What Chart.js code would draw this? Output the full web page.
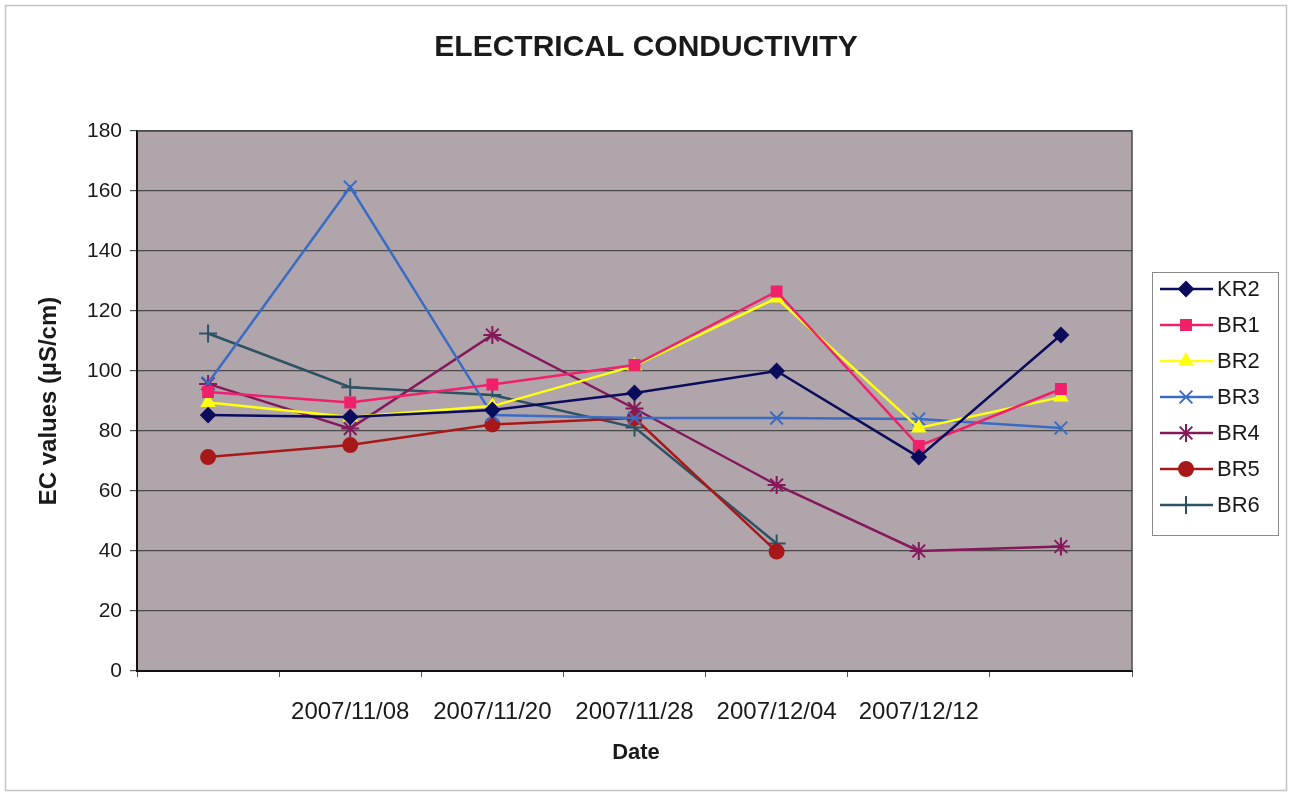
<!DOCTYPE html>
<html>
<head>
<meta charset="utf-8">
<script src="https://cdn.jsdelivr.net/npm/chart.js@4.4.0/dist/chart.umd.min.js"></script>
<style>
html, body { margin: 0; padding: 0; background: #fff; }
canvas { display: block; }
</style>
</head>
<body>
<canvas id="ecChart" width="1293" height="795"></canvas>
<script>
// sampling dates (first and last had no label on the sheet)
const dates = ['', '2007/11/08', '2007/11/20', '2007/11/28', '2007/12/04', '2007/12/12', ''];
const yTicks = [0, 20, 40, 60, 80, 100, 120, 140, 160, 180];

// EC readings per site (µS/cm)
const kr2 = [85.3, 84.7, 87, 92.7, 100, 71.3, 112];
const br1 = [93, 89.5, 95.5, 102, 126.5, 75, 94];
const br2 = [89.5, 84.7, 88.3, 101.7, 124.3, 81, 91.3];
const br3 = [96, 161.3, 85.3, 84.3, 84.3, 84, 81];
const br4 = [95.7, 80.8, 112, 87.5, 62, 40, 41.5];
const br5 = [71.3, 75.3, 82.2, 84.3, 39.8, null, null];
const br6 = [112.5, 94.6, 92, 81.2, 42.5, null, null];

const FONT = '"Liberation Sans", Arial, sans-serif';

function series(label, data, color, style, radius) {
    return {
        label: label,
        data: data,
        borderColor: color,
        backgroundColor: color,
        pointBackgroundColor: color,
        pointBorderColor: color,
        pointStyle: style,
        pointRadius: radius,
        pointBorderWidth: 2,
        borderWidth: 2.5,
        tension: 0,
        spanGaps: false
    };
}

const datasets = [
    series('KR2', kr2, '#0c0c5c', 'rectRot', 7),
    series('BR1', br1, '#f0206a', 'rect', 7),
    series('BR2', br2, '#ffff10', 'triangle', 7),
    series('BR3', br3, '#3a6cc4', 'crossRot', 9),
    series('BR4', br4, '#85185a', 'star', 9),
    series('BR5', br5, '#a81818', 'circle', 7),
    series('BR6', br6, '#2e5264', 'cross', 9)
];

// background, plot fill, borders, titles and the boxed legend
const decor = {
    id: 'decor',
    beforeDraw(chart) {
        const c = chart.ctx, a = chart.chartArea;
        c.save();
        c.fillStyle = '#ffffff';
        c.fillRect(0, 0, chart.width, chart.height);
        c.strokeStyle = '#c4c4c4';
        c.lineWidth = 1.5;
        c.strokeRect(5.5, 5.5, 1281, 785);
        c.fillStyle = '#b1a5ac';
        c.fillRect(a.left, a.top, a.right - a.left, a.bottom - a.top);
        c.restore();
    },
    afterDraw(chart) {
        const c = chart.ctx, a = chart.chartArea;
        c.save();
        c.strokeStyle = '#4a4a4a';
        c.lineWidth = 1.5;
        c.beginPath();
        c.moveTo(a.left, a.top);
        c.lineTo(a.right, a.top);
        c.lineTo(a.right, a.bottom);
        c.stroke();

        c.fillStyle = '#1a1a1a';
        c.textAlign = 'center';
        c.textBaseline = 'middle';
        c.font = 'bold 30px ' + FONT;
        c.fillText('ELECTRICAL CONDUCTIVITY', 646, 48);
        c.font = 'bold 22px ' + FONT;
        c.fillText('Date', 636, 753);
        c.save();
        c.translate(49, 401);
        c.rotate(-Math.PI / 2);
        c.font = 'bold 24px ' + FONT;
        c.fillText('EC values (\u00b5S/cm)', 0, 0);
        c.restore();

        // legend
        const lx = 1152, ly = 272, lw = 126, lh = 263;
        c.fillStyle = '#ffffff';
        c.fillRect(lx, ly, lw, lh);
        c.strokeStyle = '#8a8a8a';
        c.lineWidth = 1;
        c.strokeRect(lx + 0.5, ly + 0.5, lw, lh);
        chart.data.datasets.forEach((ds, i) => {
            const y = 289 + i * 36;
            c.strokeStyle = ds.borderColor;
            c.fillStyle = ds.borderColor;
            c.lineWidth = 2.5;
            c.beginPath();
            c.moveTo(1160, y);
            c.lineTo(1213, y);
            c.stroke();
            c.lineWidth = 2;
            Chart.helpers.drawPoint(c, {
                pointStyle: ds.pointStyle,
                radius: ds.pointRadius,
                rotation: 0,
                borderWidth: 2
            }, 1186, y);
            c.fillStyle = '#1a1a1a';
            c.textAlign = 'left';
            c.font = '22px ' + FONT;
            c.fillText(ds.label, 1217, y + 1);
        });
        c.restore();
    }
};

new Chart(document.getElementById('ecChart'), {
    type: 'line',
    data: { labels: dates, datasets: datasets },
    options: {
        responsive: false,
        animation: false,
        layout: { padding: { left: 0, top: 131, right: 161, bottom: 0 } },
        plugins: {
            legend: { display: false },
            title: { display: false },
            tooltip: { enabled: false }
        },
        scales: {
            x: {
                offset: true,
                afterFit: (scale) => { scale.height = 124; },
                grid: {
                    offset: true,
                    drawOnChartArea: false,
                    drawTicks: true,
                    tickLength: 6,
                    color: '#555555'
                },
                border: { display: true, color: '#111111', width: 2 },
                ticks: {
                    autoSkip: false,
                    maxRotation: 0,
                    padding: 21,
                    color: '#1a1a1a',
                    font: { family: FONT, size: 24 }
                }
            },
            y: {
                min: 0,
                max: 180,
                afterFit: (scale) => { scale.width = 137; },
                afterBuildTicks: (scale) => { scale.ticks = yTicks.map(v => ({ value: v })); },
                grid: {
                    color: '#4a4a4a',
                    lineWidth: 1.2,
                    drawTicks: true,
                    tickLength: 7
                },
                border: { display: true, color: '#111111', width: 2 },
                ticks: {
                    padding: 8,
                    color: '#1a1a1a',
                    font: { family: FONT, size: 21 }
                }
            }
        }
    },
    plugins: [decor]
});
</script>
</body>
</html>
